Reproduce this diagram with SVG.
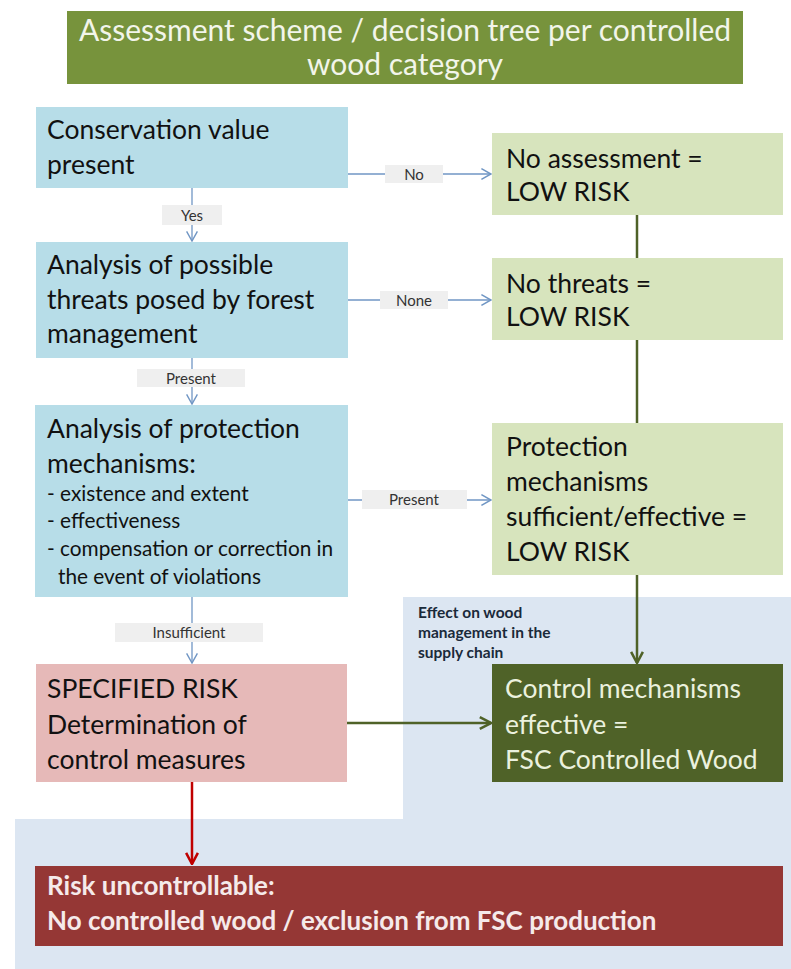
<svg xmlns="http://www.w3.org/2000/svg" width="791" height="969" viewBox="0 0 791 969">
<style>
.t{font-family:Lato,"Open Sans","Liberation Sans",sans-serif;fill:#111;}
.big{font-size:26.5px;}
.sm{font-size:20.8px;}
.lbl{font-family:Lato,"Open Sans","Liberation Sans",sans-serif;font-size:15px;fill:#333;text-anchor:middle;}
.lb{fill:#EFEFEF;}
.cb{stroke:#7096C4;stroke-width:1.3;fill:none;}
.cg{stroke:#4F6228;stroke-width:2.5;fill:none;}
.cr{stroke:#C00000;stroke-width:2.5;fill:none;}
.ef{font-family:Lato,"Open Sans","Liberation Sans",sans-serif;font-size:15.5px;font-weight:bold;fill:#1A2A3A;}
.ti{font-family:Lato,"Open Sans","Liberation Sans",sans-serif;font-size:30px;fill:#F2F5EA;text-anchor:middle;}
</style>
<defs>
<marker id="ab" markerWidth="12" markerHeight="12" refX="9" refY="5" orient="auto" markerUnits="userSpaceOnUse" viewBox="0 0 10 10">
<path d="M1,0.5 L9,5 L1,9.5" fill="none" stroke="#7096C4" stroke-width="1.2"/>
</marker>
<marker id="ag" markerWidth="14" markerHeight="14" refX="9" refY="5" orient="auto" markerUnits="userSpaceOnUse" viewBox="0 0 10 10">
<path d="M1,0.8 L9,5 L1,9.2" fill="none" stroke="#4F6228" stroke-width="1.8"/>
</marker>
<marker id="ar" markerWidth="14" markerHeight="14" refX="9" refY="5" orient="auto" markerUnits="userSpaceOnUse" viewBox="0 0 10 10">
<path d="M1,0.8 L9,5 L1,9.2" fill="none" stroke="#C00000" stroke-width="1.8"/>
</marker>
</defs>
<rect width="791" height="969" fill="#FFFFFF"/>
<path id="bgregion" d="M403,597 H791 V969 H15 V819 H403 Z" fill="#DCE6F2"/>

<g id="title">
<rect x="67" y="11" width="676" height="73" fill="#77933C"/>
<text class="ti" x="405" y="41">Assessment scheme / decision tree per controlled</text>
<text class="ti" x="405" y="75">wood category</text>
</g>

<g id="connectors">
<line class="cb" x1="192" y1="188" x2="192" y2="241" marker-end="url(#ab)"/>
<line class="cb" x1="192" y1="358" x2="192" y2="404" marker-end="url(#ab)"/>
<line class="cb" x1="192" y1="597" x2="192" y2="663" marker-end="url(#ab)"/>
<line class="cb" x1="348" y1="174" x2="491" y2="174" marker-end="url(#ab)"/>
<line class="cb" x1="348" y1="300" x2="491" y2="300" marker-end="url(#ab)"/>
<line class="cb" x1="348" y1="500" x2="491" y2="500" marker-end="url(#ab)"/>
<line class="cg" x1="637" y1="215" x2="637" y2="258"/>
<line class="cg" x1="637" y1="340" x2="637" y2="423"/>
<line class="cg" x1="637" y1="575" x2="637" y2="663" marker-end="url(#ag)"/>
<line class="cg" x1="347" y1="723" x2="491" y2="723" marker-end="url(#ag)"/>
<line class="cr" x1="192" y1="782" x2="192" y2="864" marker-end="url(#ar)"/>
<rect class="lb" x="162" y="205" width="60" height="20"/>
<text class="lbl" x="192" y="220.5">Yes</text>
<rect class="lb" x="137" y="369" width="108" height="18"/>
<text class="lbl" x="191" y="383.5">Present</text>
<rect class="lb" x="115" y="623" width="148" height="19"/>
<text class="lbl" x="189" y="638">Insufficient</text>
<rect class="lb" x="385" y="165" width="58" height="18"/>
<text class="lbl" x="414" y="179.5">No</text>
<rect class="lb" x="380" y="291" width="68" height="18"/>
<text class="lbl" x="414" y="305.5">None</text>
<rect class="lb" x="362" y="490" width="105" height="19"/>
<text class="lbl" x="414" y="505">Present</text>
</g>

<g id="n1">
<rect x="36" y="107" width="312" height="81" fill="#B7DDE8"/>
<text class="t big" x="47" y="139">Conservation value</text>
<text class="t big" x="47" y="174">present</text>
</g>
<g id="n2">
<rect x="36" y="242" width="312" height="116" fill="#B7DDE8"/>
<text class="t big" x="47" y="274">Analysis of possible</text>
<text class="t big" x="47" y="309">threats posed by forest</text>
<text class="t big" x="47" y="343">management</text>
</g>
<g id="n3">
<rect x="35" y="405" width="313" height="192" fill="#B7DDE8"/>
<text class="t big" x="47" y="438">Analysis of protection</text>
<text class="t big" x="47" y="473">mechanisms:</text>
<text class="t sm" x="47" y="501">- existence and extent</text>
<text class="t sm" x="47" y="528">- effectiveness</text>
<text class="t sm" x="47" y="556">- compensation or correction in</text>
<text class="t sm" x="58" y="584">the event of violations</text>
</g>
<g id="n4">
<rect x="492" y="133" width="291" height="82" fill="#D7E4BD"/>
<text class="t big" x="506" y="168">No assessment =</text>
<text class="t big" x="506" y="201">LOW RISK</text>
</g>
<g id="n5">
<rect x="492" y="258" width="291" height="82" fill="#D7E4BD"/>
<text class="t big" x="506" y="293">No threats =</text>
<text class="t big" x="506" y="326">LOW RISK</text>
</g>
<g id="n6">
<rect x="492" y="423" width="291" height="152" fill="#D7E4BD"/>
<text class="t big" x="506" y="456">Protection</text>
<text class="t big" x="506" y="491">mechanisms</text>
<text class="t big" x="506" y="526">sufficient/effective =</text>
<text class="t big" x="506" y="561">LOW RISK</text>
</g>
<g id="effect">
<text class="ef" x="418" y="618">Effect on wood</text>
<text class="ef" x="418" y="638">management in the</text>
<text class="ef" x="418" y="658">supply chain</text>
</g>
<g id="n7">
<rect x="36" y="664" width="311" height="118" fill="#E6B9B8"/>
<text class="t big" x="47" y="698">SPECIFIED RISK</text>
<text class="t big" x="47" y="734">Determination of</text>
<text class="t big" x="47" y="769">control measures</text>
</g>
<g id="n8">
<rect x="492" y="664" width="291" height="118" fill="#4F6228"/>
<text class="t big" x="505" y="698" style="fill:#EBF1DE">Control mechanisms</text>
<text class="t big" x="505" y="734" style="fill:#EBF1DE">effective =</text>
<text class="t big" x="505" y="769" style="fill:#EBF1DE">FSC Controlled Wood</text>
</g>
<g id="n9">
<rect x="35" y="866" width="748" height="80" fill="#953735"/>
<text class="t" x="47" y="895" style="fill:#F5EAEA;font-weight:bold;font-size:26px">Risk uncontrollable:</text>
<text class="t" x="47" y="930" style="fill:#F5EAEA;font-weight:bold;font-size:26px">No controlled wood / exclusion from FSC production</text>
</g>
</svg>
